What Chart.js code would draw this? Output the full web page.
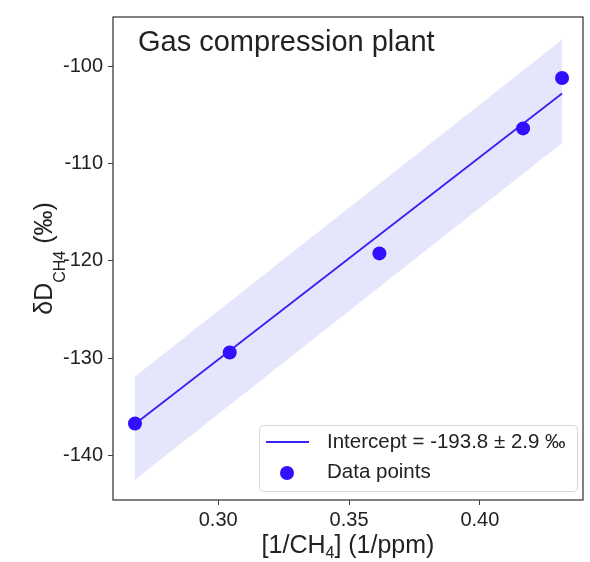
<!DOCTYPE html>
<html>
<head>
<meta charset="utf-8">
<script src="https://cdn.jsdelivr.net/npm/chart.js@4.4.1/dist/chart.umd.min.js"></script>
<style>
  html, body { margin: 0; padding: 0; background: #fff; }
  #wrap { width: 590px; height: 562px; }
</style>
</head>
<body>
<div id="wrap"><canvas id="chart" width="590" height="562"></canvas></div>
<script>
// Data
const xValues = [0.2682, 0.3044, 0.3616, 0.4165, 0.4314];
const dDValues = [-136.75, -129.43, -119.22, -106.34, -101.14];
const fitX = [0.2682, 0.4314];
const fitY = [-136.8, -102.75];
const bandUpper = [-131.9, -97.2];
const bandLower = [-142.55, -107.85];
const xTicks = [0.30, 0.35, 0.40];
const yTicks = [-140, -130, -120, -110, -100];

const titleText = 'Gas compression plant';
const lineLabel = 'Intercept = -193.8 ± 2.9 ‰';
const pointLabel = 'Data points';

const FONT = '"Liberation Sans", Arial, sans-serif';
const BLUE_LINE = '#3422f6';
const BLUE_POINT = '#3010ff';
const TEXT = '#222222';

// Frame, title, axis titles and legend drawn on top
const decorPlugin = {
  id: 'decor',
  afterDraw(chart) {
    const ctx = chart.ctx;
    const a = chart.chartArea;
    ctx.save();

    // frame
    ctx.strokeStyle = '#3c3c3c';
    ctx.lineWidth = 1.3;
    ctx.strokeRect(a.left, a.top, a.right - a.left, a.bottom - a.top);

    // title inside plot
    ctx.fillStyle = TEXT;
    ctx.font = '29px ' + FONT;
    ctx.textBaseline = 'alphabetic';
    ctx.textAlign = 'left';
    ctx.fillText(titleText, a.left + 25, a.top + 34);

    // x axis title: [1/CH4] (1/ppm)
    const big = '25px ' + FONT, small = '16px ' + FONT;
    ctx.font = big;
    const p1 = '[1/CH', p3 = '] (1/ppm)';
    const w1 = ctx.measureText(p1).width, w3 = ctx.measureText(p3).width;
    ctx.font = small;
    const w2 = ctx.measureText('4').width;
    let x = (a.left + a.right) / 2 - (w1 + w2 + w3) / 2;
    const by = 553;
    ctx.font = big; ctx.fillText(p1, x, by); x += w1;
    ctx.font = small; ctx.fillText('4', x, by + 5); x += w2;
    ctx.font = big; ctx.fillText(p3, x, by);

    // y axis title: δD_CH4 (‰)
    ctx.font = big;
    const q1 = 'δD', q3 = ' (‰)';
    const v1 = ctx.measureText(q1).width, v3 = ctx.measureText(q3).width;
    ctx.font = small;
    const v2 = ctx.measureText('CH4').width;
    ctx.translate(52, (a.top + a.bottom) / 2);
    ctx.rotate(-Math.PI / 2);
    let u = -(v1 + v2 + v3) / 2;
    ctx.font = big; ctx.fillText(q1, u, 0); u += v1;
    ctx.font = small; ctx.fillText('CH4', u, 13); u += v2;
    ctx.font = big; ctx.fillText(q3, u, 0);
    ctx.setTransform(1, 0, 0, 1, 0, 0);

    // legend box
    const lx = 259, ly = 425, lw = 318, lh = 66;
    ctx.fillStyle = 'rgba(255,255,255,0.85)';
    ctx.strokeStyle = '#d6d6d6';
    ctx.lineWidth = 1;
    ctx.beginPath();
    ctx.roundRect(lx + 0.5, ly + 0.5, lw, lh, 4);
    ctx.fill();
    ctx.stroke();

    ctx.strokeStyle = BLUE_LINE;
    ctx.lineWidth = 1.8;
    ctx.beginPath();
    ctx.moveTo(266, 442);
    ctx.lineTo(309, 442);
    ctx.stroke();

    ctx.fillStyle = BLUE_POINT;
    ctx.beginPath();
    ctx.arc(287, 473, 7, 0, Math.PI * 2);
    ctx.fill();

    ctx.fillStyle = TEXT;
    ctx.font = '20.5px ' + FONT;
    ctx.textBaseline = 'middle';
    ctx.fillText(lineLabel, 327, 442);
    ctx.fillText(pointLabel, 327, 472);

    ctx.restore();
  }
};

const ctx = document.getElementById('chart').getContext('2d');

new Chart(ctx, {
  type: 'scatter',
  data: {
    datasets: [
      {
        label: 'band upper',
        type: 'line',
        data: fitX.map((x, i) => ({ x, y: bandUpper[i] })),
        borderWidth: 0,
        pointRadius: 0,
        fill: false,
        order: 3
      },
      {
        label: 'band lower',
        type: 'line',
        data: fitX.map((x, i) => ({ x, y: bandLower[i] })),
        borderWidth: 0,
        pointRadius: 0,
        fill: '-1',
        backgroundColor: 'rgba(40, 40, 230, 0.12)',
        order: 3
      },
      {
        label: lineLabel,
        type: 'line',
        data: fitX.map((x, i) => ({ x, y: fitY[i] })),
        borderColor: BLUE_LINE,
        borderWidth: 1.8,
        pointRadius: 0,
        fill: false,
        order: 2
      },
      {
        label: pointLabel,
        data: xValues.map((x, i) => ({ x, y: dDValues[i] })),
        backgroundColor: BLUE_POINT,
        borderWidth: 0,
        pointRadius: 7,
        order: 1
      }
    ]
  },
  options: {
    responsive: false,
    animation: false,
    layout: { padding: { left: 0, right: 3, top: 6, bottom: 0 } },
    plugins: {
      legend: { display: false },
      tooltip: { enabled: false }
    },
    scales: {
      x: {
        type: 'linear',
        min: 0.2598,
        max: 0.4394,
        afterBuildTicks: s => { s.ticks = xTicks.map(v => ({ value: v })); },
        afterFit: s => { s.height = 62; },
        grid: { drawOnChartArea: false, tickLength: 5, tickColor: '#3c3c3c' },
        border: { display: false },
        ticks: {
          color: TEXT,
          font: { family: FONT, size: 20 },
          padding: 3,
          callback: v => v.toFixed(2)
        }
      },
      y: {
        min: -144.63,
        max: -94.86,
        afterBuildTicks: s => { s.ticks = yTicks.map(v => ({ value: v })); },
        afterFit: s => { s.width = 113; },
        grid: { drawOnChartArea: false, tickLength: 5, tickColor: '#3c3c3c' },
        border: { display: false },
        ticks: {
          color: TEXT,
          font: { family: FONT, size: 20 },
          padding: 5,
          callback: v => String(v)
        }
      }
    }
  },
  plugins: [decorPlugin]
});
</script>
</body>
</html>
